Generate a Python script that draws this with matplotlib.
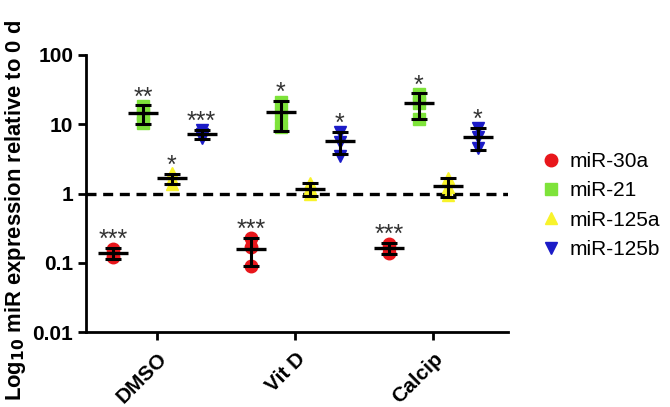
import numpy as np
import matplotlib
matplotlib.use('Agg')
import matplotlib.pyplot as plt

plt.rcParams['font.family'] = ['Liberation Sans', 'DejaVu Sans']
plt.rcParams['font.weight'] = 'bold'

# Groups and series
groups = ['DMSO', 'Vit D', 'Calcip']
series = ['miR-30a', 'miR-21', 'miR-125a', 'miR-125b']
colors = ['#e8161b', '#7ee33a', '#f8f32b', '#1b1bc7']
markers = ['o', 's', '^', 'v']

# Mean and SD (linear units) per series, per group
means = {
    'miR-30a': [0.14, 0.16, 0.165],
    'miR-21': [14.4, 15.0, 20.0],
    'miR-125a': [1.65, 1.18, 1.3],
    'miR-125b': [7.2, 5.7, 6.5],
}
sds = {
    'miR-30a': [0.026, 0.07, 0.03],
    'miR-21': [4.4, 7.0, 8.0],
    'miR-125a': [0.27, 0.25, 0.4],
    'miR-125b': [1.1, 2.0, 2.3],
}

# Replicate points
points = {
    'miR-30a': [[0.12, 0.14, 0.16], [0.09, 0.17, 0.23], [0.14, 0.165, 0.19]],
    'miR-21': [[10.5, 14, 18.5], [9, 14, 21], [12, 20, 27]],
    'miR-125a': [[1.35, 1.6, 1.95], [0.97, 1.2, 1.4], [0.95, 1.25, 1.7]],
    'miR-125b': [[6.3, 7.2, 8.2], [3.5, 5.5, 7.8], [4.5, 6.5, 8.8]],
}

# Significance stars
stars = {
    'miR-30a': ['***', '***', '***'],
    'miR-21': ['**', '*', '*'],
    'miR-125a': ['*', '', ''],
    'miR-125b': ['***', '*', '*'],
}

offsets = [-0.32, -0.105, 0.105, 0.32]

fig = plt.figure(figsize=(6.7, 4.07), dpi=100)
ax = fig.add_axes([0.128, 0.184, 0.63, 0.681])

x = np.arange(len(groups))

for i, s in enumerate(series):
    xs = x + offsets[i]
    for g in range(len(groups)):
        pts = points[s][g]
        ax.plot([xs[g]] * len(pts), pts, linestyle='none', marker=markers[i],
                color=colors[i], markersize=9, zorder=2)
    ax.errorbar(xs, means[s], yerr=sds[s], fmt='none', ecolor='black',
                elinewidth=2.2, capsize=6, capthick=2.2, zorder=3)
    ax.plot(xs, means[s], linestyle='none', marker='_', markersize=22,
            mew=2.4, color='black', zorder=3, label='_nolegend_')
    for g in range(len(groups)):
        if stars[s][g]:
            ax.annotate(stars[s][g], (xs[g], means[s][g] + sds[s][g]),
                        xytext=(0, -3), textcoords='offset points',
                        ha='center', va='bottom', fontsize=18,
                        fontweight='normal', color='#333333')

ax.axhline(1, color='black', linestyle=(0, (3, 2)), linewidth=2.4, zorder=1)

ax.set_yscale('log')
ax.set_ylim(0.01, 100)
ax.set_xlim(-0.52, 2.54)
ax.set_yticks([0.01, 0.1, 1, 10, 100])
ax.set_yticklabels(['0.01', '0.1', '1', '10', '100'], fontsize=15)
ax.minorticks_off()
ax.set_xticks(x)
ax.set_xticklabels(groups, rotation=45, ha='right', rotation_mode='anchor',
                   fontsize=15)
ax.tick_params(axis='both', width=2, length=6)
ax.tick_params(axis='y', pad=3)
ax.tick_params(axis='x', pad=6)
ax.set_ylabel('Log$_{10}$ miR expression relative to 0 d', fontsize=15.8,
              fontweight='bold')
ax.yaxis.set_label_coords(-0.137, 0.44)

for side in ['top', 'right']:
    ax.spines[side].set_visible(False)
for side in ['left', 'bottom']:
    ax.spines[side].set_linewidth(2)

handles = [plt.Line2D([], [], linestyle='none', marker=markers[i], color=colors[i],
                      markersize=9) for i in range(len(series))]
fig.legend(handles, series, loc='center left', bbox_to_anchor=(0.779, 0.495),
           frameon=False, handlelength=1, handletextpad=0.4, labelspacing=0.5,
           prop={'size': 15, 'weight': 'normal'})

plt.savefig('out.png')
